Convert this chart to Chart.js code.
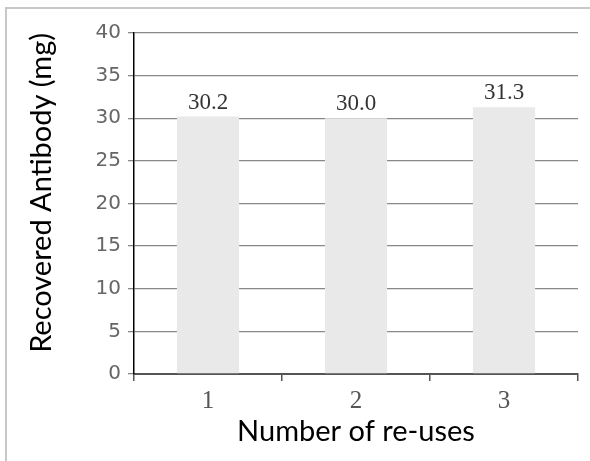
<!DOCTYPE html>
<html>
<head>
<meta charset="utf-8">
<script src="https://cdn.jsdelivr.net/npm/chart.js@4"></script>
<style>
    html, body { margin: 0; padding: 0; background: #fff; }
    #wrap { position: relative; width: 590px; height: 461px; }
    #frame {
        position: absolute; left: 5px; top: 7px; right: 0; bottom: 0;
        border-left: 2px solid #c8c8c8; border-top: 2px solid #c8c8c8;
    }
    canvas { position: absolute; left: 0; top: 0; }
</style>
</head>
<body>
<div id="wrap">
    <div id="frame"></div>
    <canvas id="reuseChart" width="590" height="461"></canvas>
</div>
<script>
// Chart data
const categories = ['1', '2', '3'];
const recovered = [30.2, 30.0, 31.3];
const yTicks = [0, 5, 10, 15, 20, 25, 30, 35, 40];

// Bar value labels
const valueLabels = {
    id: 'valueLabels',
    afterDatasetsDraw(chart) {
        const ctx = chart.ctx;
        const meta = chart.getDatasetMeta(0);
        ctx.save();
        ctx.font = '23px "Liberation Serif", serif';
        ctx.fillStyle = '#333';
        ctx.textAlign = 'center';
        ctx.textBaseline = 'alphabetic';
        meta.data.forEach((bar, i) => {
            ctx.fillText(recovered[i].toFixed(1), bar.x, bar.y - 8);
        });
        ctx.restore();
    }
};

const ctx = document.getElementById('reuseChart').getContext('2d');
new Chart(ctx, {
    type: 'bar',
    data: {
        labels: categories,
        datasets: [{
            data: recovered,
            backgroundColor: '#e9e9e9',
            borderWidth: 0,
            barPercentage: 0.42,
            categoryPercentage: 1.0
        }]
    },
    options: {
        responsive: false,
        animation: false,
        layout: { padding: { left: 0, top: 33, right: 12, bottom: 0 } },
        plugins: {
            legend: { display: false },
            tooltip: { enabled: false }
        },
        scales: {
            x: {
                offset: true,
                grid: {
                    offset: true,
                    drawOnChartArea: false,
                    drawTicks: true,
                    tickLength: 7,
                    color: '#555',
                    lineWidth: 1.5
                },
                border: { color: '#555', width: 2 },
                ticks: {
                    padding: 5,
                    color: '#555',
                    font: { family: '"Liberation Serif", serif', size: 25 }
                },
                title: {
                    display: true,
                    text: 'Number of re-uses',
                    color: '#000',
                    font: { family: 'Lato, "Open Sans", sans-serif', size: 29 },
                    padding: { top: 0, bottom: 12 }
                },
                afterFit(scale) { scale.height = 87; }
            },
            y: {
                min: 0,
                max: 40,
                afterBuildTicks(scale) {
                    scale.ticks = yTicks.map(v => ({ value: v }));
                },
                grid: {
                    color: '#888',
                    lineWidth: 1.3,
                    tickLength: 6
                },
                border: { color: '#000', width: 1.5 },
                ticks: {
                    padding: 7,
                    color: '#666',
                    font: { family: '"DejaVu Sans", sans-serif', size: 20 }
                },
                title: {
                    display: true,
                    text: 'Recovered Antibody (mg)',
                    align: 'end',
                    color: '#000',
                    font: { family: 'Lato, "Open Sans", sans-serif', size: 29 },
                    padding: { top: 24, bottom: 0 }
                },
                afterFit(scale) { scale.width = 134; }
            }
        }
    },
    plugins: [valueLabels]
});
</script>
</body>
</html>
